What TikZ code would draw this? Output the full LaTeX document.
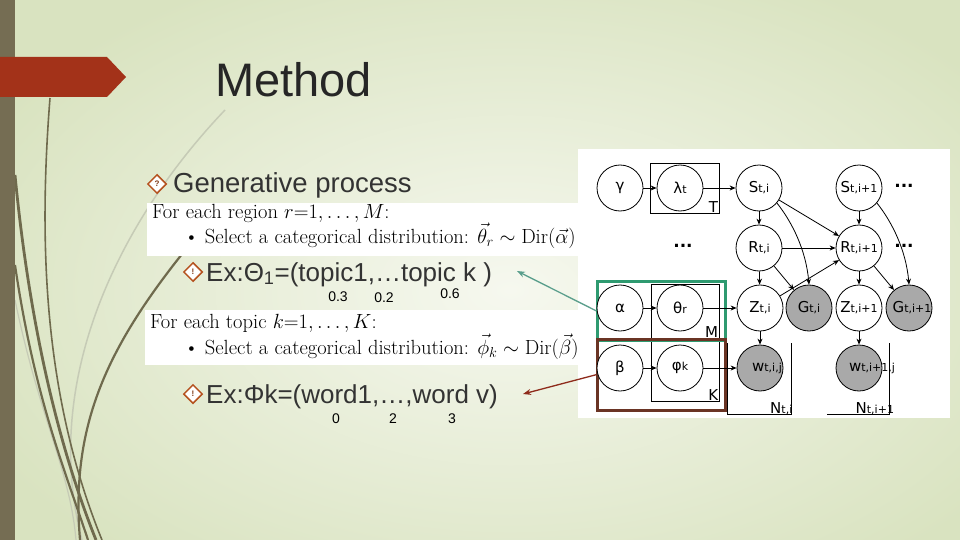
\RequirePackage{fix-cm}
\documentclass[tikz,border=0pt]{standalone}
\usepackage{fontspec}
\usepackage{amsmath}
\newfontfamily\slidefont{Liberation Sans}
\newfontfamily\gfont{DejaVu Sans}
\usetikzlibrary{arrows.meta,shapes.geometric}

\definecolor{bgin}{HTML}{F6F8EF}
\definecolor{bgout}{HTML}{D9E3C0}
\definecolor{barcol}{HTML}{756D53}
\definecolor{bannercol}{HTML}{A33219}
\definecolor{curvedark}{HTML}{6F6A4D}
\definecolor{curvelight}{HTML}{C6CBB6}
\definecolor{titlecol}{HTML}{262626}
\definecolor{textcol}{HTML}{333333}
\definecolor{iconcol}{HTML}{B5521F}
\definecolor{greenboxcol}{HTML}{2E9A70}
\definecolor{brownboxcol}{HTML}{6A3424}
\definecolor{greenarrowcol}{HTML}{5A9E8C}
\definecolor{redarrowcol}{HTML}{8E2B1B}
\definecolor{nodegray}{HTML}{A9A9A9}

\newcommand{\glab}[2]{{\gfont\fontsize{15}{15}\selectfont #1\fontsize{11}{11}\selectfont #2}}

\tikzset{
  gnode/.style={circle, draw=black, line width=0.8pt, minimum size=46pt, inner sep=0pt, fill=white},
  onode/.style={gnode, fill=nodegray},
  garrow/.style={-{Stealth[length=6pt,width=5pt]}, line width=0.8pt},
  plate/.style={draw=black, line width=0.8pt, inner sep=0pt, anchor=north west},
  platelab/.style={anchor=south east, inner sep=1.5pt, font=\gfont\fontsize{15}{15}\selectfont},
  gdots/.style={font=\gfont\bfseries\fontsize{17}{17}\selectfont, inner sep=0pt},
  icon/.style={diamond, draw=iconcol, line width=1.5pt, fill=white, minimum size=19pt, inner sep=0pt,
    font=\slidefont\bfseries\fontsize{8}{8}\selectfont, text=iconcol!70!black},
  slidetext/.style={anchor=base west, inner sep=0pt, text=textcol, font=\slidefont\fontsize{26}{26}\selectfont},
  numtext/.style={inner sep=0pt, text=black, font=\slidefont\fontsize{14}{14}\selectfont},
  serif/.style={anchor=base west, inner sep=0pt, font=\fontsize{20.5}{20.5}\selectfont},
  whitebox/.style={fill=white, anchor=north west, inner sep=0pt},
  callout/.style={line width=2.5pt, anchor=north west, inner sep=0pt},
  pointer/.style={line width=1.3pt, -{Stealth[length=8pt,width=6pt]}}
}

\begin{document}
\begin{tikzpicture}[x=1pt,y=-1pt]
\useasboundingbox (0,0) rectangle (960,540);
\clip (0,0) rectangle (960,540);
% background
\shade[inner color=bgin, outer color=bgout] (-80,-60) rectangle (1100,640);
% decorative curves
\draw[curvelight, line width=1.5pt] (225,110) .. controls (120,220) and (40,380) .. (82,540);
\draw[curvelight, line width=1.2pt] (15,300) .. controls (40,420) and (70,470) .. (76,540);
\draw[curvedark, line width=1.6pt] (50,98) .. controls (38,250) and (45,400) .. (102,540);
\draw[curvedark, line width=2.8pt] (15,175) .. controls (30,330) and (60,450) .. (96,540);
\draw[curvedark, line width=2.2pt] (15,265) .. controls (35,400) and (65,470) .. (88,540);
\draw[curvedark, line width=2.2pt] (200,232) .. controls (110,340) and (70,420) .. (80,540);
% left bar and banner
\fill[barcol] (0,0) rectangle (15,540);
\fill[bannercol] (0,57) -- (107,57) -- (126,77) -- (107,97) -- (0,97) -- cycle;
% title
\node[anchor=base west, inner sep=0pt, text=titlecol, font=\slidefont\fontsize{47}{47}\selectfont] (title) at (215,97) {Method};

% bullet: Generative process
\node[icon] (ic1) at (157,184) {?};
\node[slidetext, font=\slidefont\fontsize{27.5}{27.5}\selectfont] (gen) at (173,193) {Generative process};

% white box 1
\node[whitebox, minimum width=433pt, minimum height=53pt] (box1) at (147,203) {};
\node[serif] (for1) at (152,218) {For each region $r{=}1,\ldots,M$:};
\node[serif] (sel1) at (184,243) {\textbullet\hspace{6pt}Select a categorical distribution: $\vec{\theta}_r\sim\mathrm{Dir}(\vec{\alpha})$};

% Ex theta
\node[icon] (ic2) at (193,272) {!};
\node[slidetext] (ex1) at (206,281) {Ex:Θ\textsubscript{1}=(topic1,…topic k )};
\node[numtext] (n1) at (338,297) {0.3};
\node[numtext] (n2) at (384,298) {0.2};
\node[numtext] (n3) at (450,294) {0.6};

% white box 2
\node[whitebox, minimum width=435pt, minimum height=55pt] (box2) at (145,310) {};
\node[serif] (for2) at (150,328) {For each topic $k{=}1,\ldots,K$:};
\node[serif] (sel2) at (184,354) {\textbullet\hspace{6pt}Select a categorical distribution: $\vec{\phi}_k\sim\mathrm{Dir}(\vec{\beta})$};

% Ex phi
\node[icon] (ic3) at (193,394) {!};
\node[slidetext] (ex2) at (206,403) {Ex:Φk=(word1,…,word v)};
\node[numtext] (m1) at (336,419) {0};
\node[numtext] (m2) at (393,419) {2};
\node[numtext] (m3) at (452,419) {3};

% graphical model panel
\fill[white] (578,149) rectangle (950,418);

% plates
\node[plate, minimum width=69pt, minimum height=50pt] (plateT) at (650,163) {};
\node[platelab] (labT) at (plateT.south east) {T};
\node[plate, minimum width=68pt, minimum height=54pt] (plateM) at (651,284) {};
\node[platelab] (labM) at (plateM.south east) {M};
\node[plate, minimum width=68pt, minimum height=60pt] (plateK) at (651,341) {};
\node[platelab] (labK) at (plateK.south east) {K};
\draw[line width=0.8pt] (727,343) -- (727,414) -- (791,414) -- (791,343);
\draw[line width=0.8pt] (827,414) -- (889,414) -- (889,343);
\node[anchor=south east, inner sep=1.5pt] (labN1) at (794,416) {\glab{N}{t,i}};
\node[anchor=south west, inner sep=1.5pt] (labN2) at (854,416) {\glab{N}{t,i+1}};

% callout boxes
\node[callout, draw=greenboxcol, minimum width=128pt, minimum height=59pt] (gbox) at (596,280) {};
\node[callout, draw=brownboxcol, minimum width=128pt, minimum height=71pt] (bbox) at (596,338) {};

% nodes
\node[gnode] (gamma) at (620,188) {\makebox[0pt]{\glab{γ}{}}};
\node[gnode] (lambda) at (680,188) {\makebox[0pt]{\glab{λ}{t}}};
\node[gnode] (alpha) at (620,308) {\makebox[0pt]{\glab{α}{}}};
\node[gnode] (theta) at (680,308) {\makebox[0pt]{\glab{θ}{r}}};
\node[gnode] (beta) at (620,368) {\makebox[0pt]{\glab{β}{}}};
\node[gnode] (phi) at (680,368) {\makebox[0pt]{\glab{φ}{k}}};

\node[gnode] (S1) at (759,188) {\makebox[0pt]{\glab{S}{t,i}}};
\node[gnode] (S2) at (859,188) {\makebox[0pt]{\glab{S}{t,i+1}}};
\node[gnode] (R1) at (759,248) {\makebox[0pt]{\glab{R}{t,i}}};
\node[gnode] (R2) at (859,248) {\makebox[0pt]{\glab{R}{t,i+1}}};
\node[gnode] (Z1) at (760,308) {\makebox[0pt]{\glab{Z}{t,i}}};
\node[onode] (G1) at (809,308) {\makebox[0pt]{\glab{G}{t,i}}};
\node[gnode] (Z2) at (859,308) {\makebox[0pt]{\glab{Z}{t,i+1}}};
\node[onode] (G2) at (909,308) {\makebox[0pt]{\hspace{6pt}\glab{G}{t,i+1}}};
\node[onode] (W1) at (760,368) {\makebox[0pt]{\hspace{14pt}\glab{w}{t,i,j}}};
\node[onode] (W2) at (859,368) {\makebox[0pt]{\hspace{26pt}\glab{w}{t,i+1,j}}};

\node[gdots] (dl) at (683,246) {...};
\node[gdots] (dt) at (904,186) {...};
\node[gdots] (dm) at (904,246) {...};

% edges
\draw[garrow] (gamma) -- (lambda);
\draw[garrow] (lambda) -- (S1);
\draw[garrow] (alpha) -- (theta);
\draw[garrow] (theta) -- (Z1);
\draw[garrow] (beta) -- (phi);
\draw[garrow] (phi) -- (W1);
\draw[garrow] (S1) -- (R1);
\draw[garrow] (R1) -- (Z1);
\draw[garrow] (Z1) -- (W1);
\draw[garrow] (S2) -- (R2);
\draw[garrow] (R2) -- (Z2);
\draw[garrow] (Z2) -- (W2);
\draw[garrow] (S1) -- (R2);
\draw[garrow] (R1) -- (R2);
\draw[garrow] (Z1) -- (R2);
\draw[garrow] (R1) -- (G1);
\draw[garrow] (R2) -- (G2);
\draw[garrow] (S1.-40) .. controls (792,222) and (806,250) .. (G1.north);
\draw[garrow] (S2.-40) .. controls (892,222) and (906,250) .. (G2.north);

% pointer arrows
\coordinate (gend) at (517,271);
\coordinate (rend) at (523,394);
\draw[pointer, greenarrowcol] (gbox.west) -- (gend);
\draw[pointer, redarrowcol] (bbox.west) -- (rend);
\end{tikzpicture}
\end{document}
